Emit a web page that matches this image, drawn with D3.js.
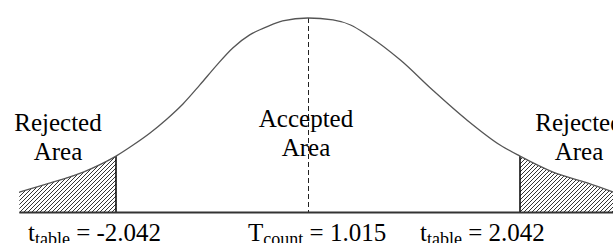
<!DOCTYPE html>
<html lang="en">
<head>
<meta charset="utf-8">
<title>t-test acceptance region</title>
<script src="https://d3js.org/d3.v7.min.js"></script>
<style>
  body { margin: 0; background: #fff; }
  svg text { font-family: "Liberation Serif", "Times New Roman", serif; fill: #000; }
</style>
</head>
<body>
<div id="chart"></div>
<script>
// curve: t value and height relative to the peak
var tVals = [-3.07, -2.74, -2.39, -2.042, -1.86, -1.68, -1.50, -1.33, -1.15, -0.97, -0.80, -0.62, -0.44, -0.27, 0,
             0.24, 0.41, 0.57, 0.89, 1.20, 1.53, 1.85, 2.042, 2.36, 2.69, 2.94];
var hVals = [0.105, 0.152, 0.208, 0.290, 0.347, 0.409, 0.481, 0.558, 0.656, 0.758, 0.846, 0.913, 0.954, 0.985, 1,
             0.990, 0.964, 0.913, 0.784, 0.630, 0.476, 0.347, 0.290, 0.208, 0.152, 0.105];

var tCrit = [-2.042, 2.042];
var tMean = 0;

var w = 613, h = 243;
var baseY = 212.5;

var svg = d3.select("#chart").append("svg")
  .attr("width", w).attr("height", h);

var x = d3.scaleLinear()
  .domain([tCrit[0], tMean, tCrit[1]])
  .range([116, 308, 520]);

var y = d3.scaleLinear()
  .domain([0, 1])
  .range([baseY, 18]);

var pts = tVals.map(function(t, i) { return { t: t, h: hVals[i] }; });

// hatch pattern
var defs = svg.append("defs");
var pat = defs.append("pattern")
  .attr("id", "hatch")
  .attr("patternUnits", "userSpaceOnUse")
  .attr("width", 4).attr("height", 4);
pat.append("path")
  .attr("d", "M-1,1 l2,-2 M0,4 l4,-4 M3,5 l2,-2")
  .attr("stroke", "#000")
  .attr("stroke-width", 0.8);

var area = d3.area()
  .x(function(d) { return x(d.t); })
  .y0(baseY)
  .y1(function(d) { return y(d.h); })
  .curve(d3.curveMonotoneX);

var line = d3.line()
  .x(function(d) { return x(d.t); })
  .y(function(d) { return y(d.h); })
  .curve(d3.curveMonotoneX);

var leftPts = pts.filter(function(d) { return d.t <= tCrit[0]; });
var rightPts = pts.filter(function(d) { return d.t >= tCrit[1]; });

svg.append("path").datum(leftPts)
  .attr("d", area).attr("fill", "url(#hatch)");
svg.append("path").datum(rightPts)
  .attr("d", area).attr("fill", "url(#hatch)");

// critical value edges
tCrit.forEach(function(t) {
  svg.append("line")
    .attr("x1", x(t)).attr("x2", x(t))
    .attr("y1", y(hVals[tVals.indexOf(t)])).attr("y2", baseY)
    .attr("stroke", "#000").attr("stroke-width", 1.5);
});

// dashed line at the peak
svg.append("line")
  .attr("x1", x(tMean) + 0.5).attr("x2", x(tMean) + 0.5)
  .attr("y1", y(1)).attr("y2", baseY)
  .attr("stroke", "#222").attr("stroke-width", 1)
  .attr("stroke-dasharray", "5,3")
  .style("shape-rendering", "crispEdges");

// curve
svg.append("path").datum(pts)
  .attr("d", line)
  .attr("fill", "none")
  .attr("stroke", "#555")
  .attr("stroke-width", 1.3);

// baseline
svg.append("line")
  .attr("x1", x(tVals[0])).attr("x2", w)
  .attr("y1", baseY).attr("y2", baseY)
  .attr("stroke", "#333").attr("stroke-width", 2);

// area labels
var areaLabels = [
  { lines: ["Rejected", "Area"], cx: 58, y: 131 },
  { lines: ["Accepted", "Area"], cx: 306, y: 127 },
  { lines: ["Rejected", "Area"], cx: 579, y: 131 }
];
areaLabels.forEach(function(l) {
  l.lines.forEach(function(s, i) {
    svg.append("text")
      .attr("x", l.cx).attr("y", l.y + i * 29)
      .attr("text-anchor", "middle")
      .style("font-size", "25px")
      .text(s);
  });
});

// bottom labels
var bottomLabels = [
  { main: "t", sub: "table", rest: " = -2.042", x: 28 },
  { main: "T", sub: "count", rest: " = 1.015", x: 248 },
  { main: "t", sub: "table", rest: " = 2.042", x: 420 }
];
bottomLabels.forEach(function(b) {
  var t = svg.append("text")
    .attr("x", b.x).attr("y", 241)
    .style("font-size", "25px");
  t.append("tspan").text(b.main);
  t.append("tspan").attr("dy", 4).style("font-size", "18px").text(b.sub);
  t.append("tspan").attr("dy", -4).text(b.rest);
});
</script>
</body>
</html>
